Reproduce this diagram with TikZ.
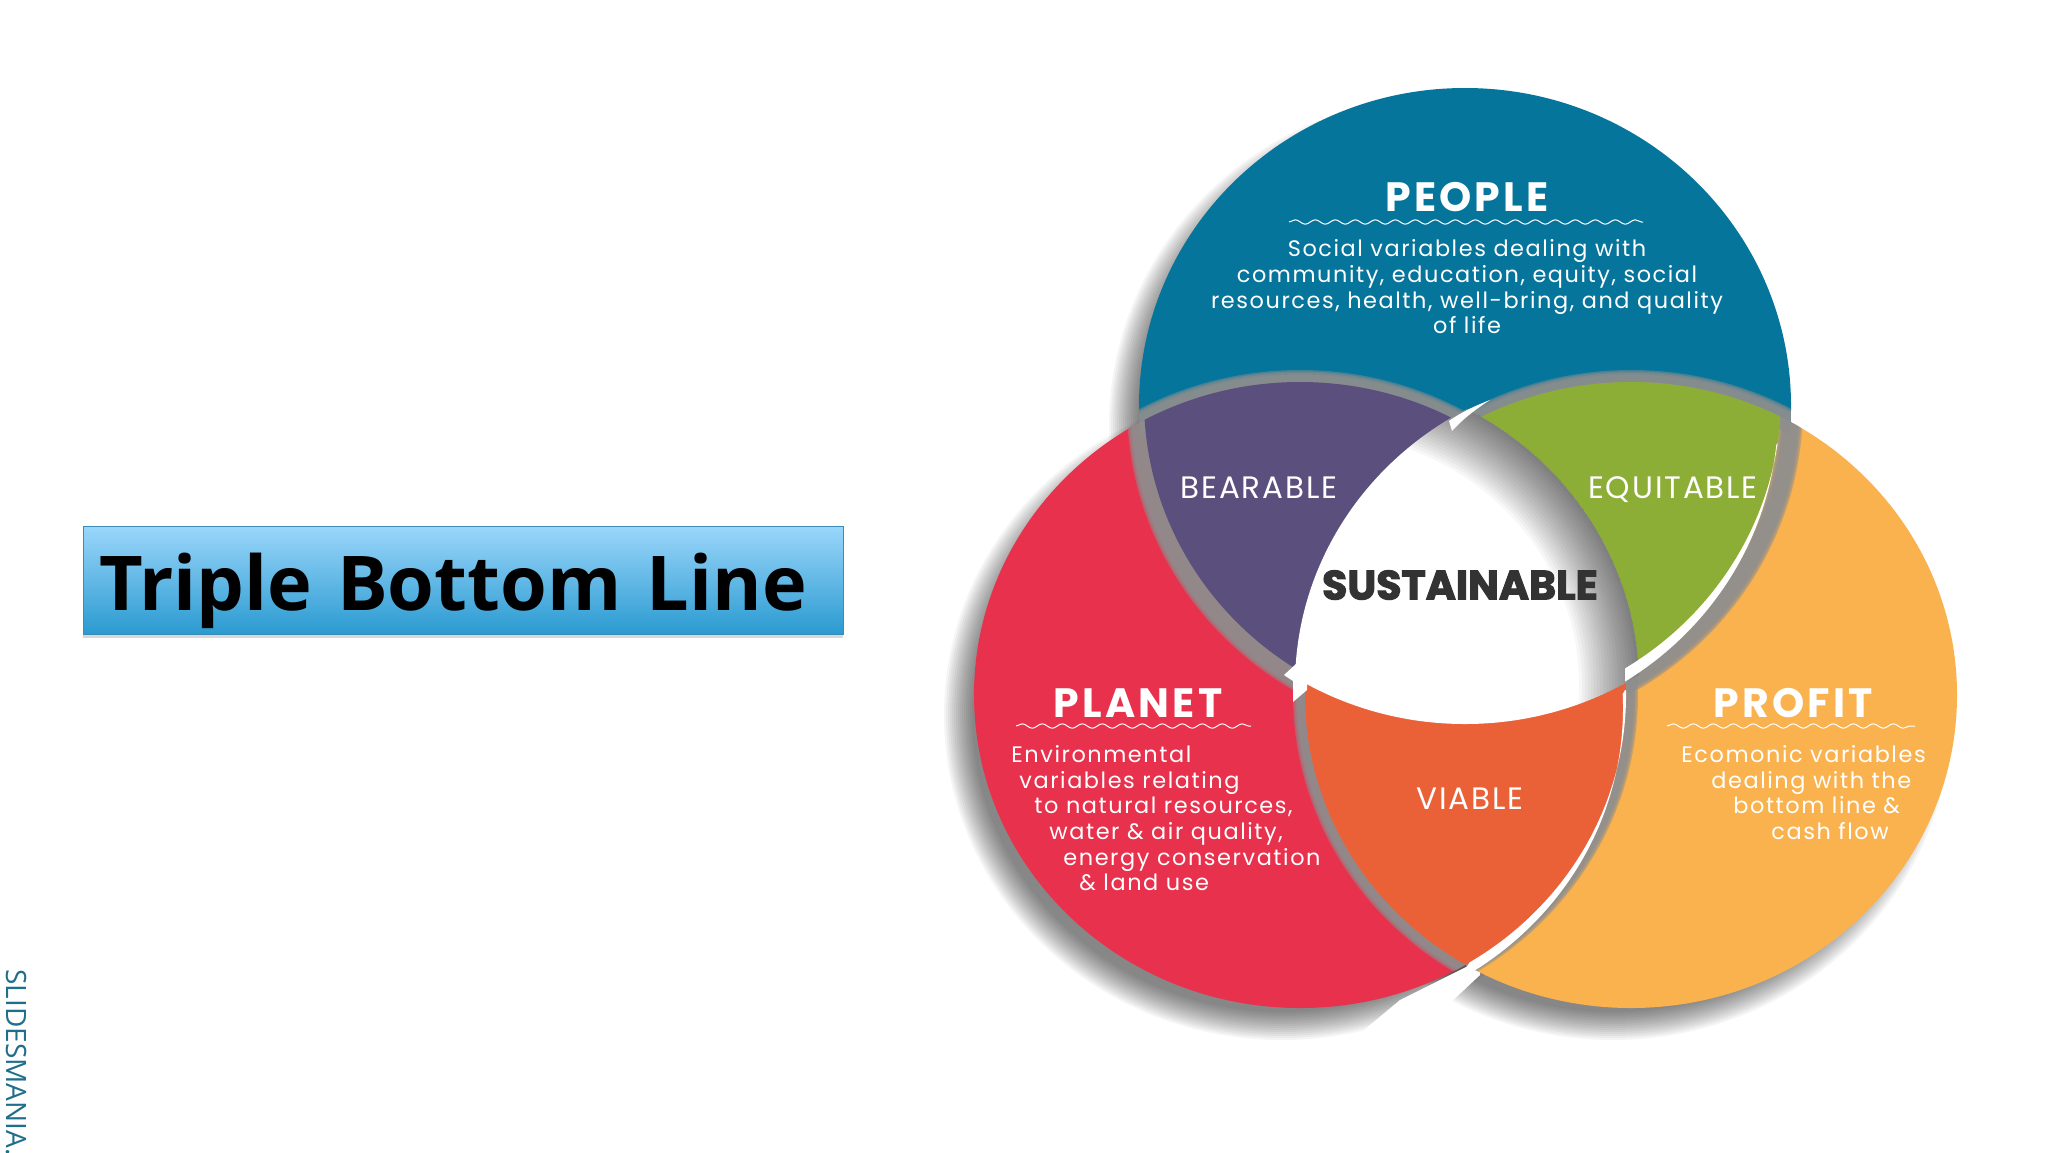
\documentclass[tikz,border=0pt]{standalone}
\usepackage{fontspec}
\usepackage{tikz}
\usetikzlibrary{positioning,shadows,decorations.pathmorphing}
\newfontfamily\vennfont[LetterSpace=7]{Poppins}
\newfontfamily\headfont[LetterSpace=8]{Poppins}
\newfontfamily\partfont[LetterSpace=6]{Poppins}
\newfontfamily\heavyfont[BoldFeatures={FakeBold=2.5}]{Poppins}
\newfontfamily\titlefont{Open Sans}
\definecolor{teal1}{HTML}{05759C}
\definecolor{red1}{HTML}{E8314D}
\definecolor{amber1}{HTML}{FAB24F}
\definecolor{plum1}{HTML}{5A4F7D}
\definecolor{olive1}{HTML}{8CAE37}
\definecolor{rust1}{HTML}{EB6137}
\definecolor{mark1}{HTML}{1F6F8B}
\definecolor{boxtop}{HTML}{9AD6FB}
\definecolor{boxbot}{HTML}{2A9AD0}
\definecolor{boxline}{HTML}{3B8DB5}
\definecolor{rim1}{HTML}{8E8E8E}
% the three circles, and the same ones moved a little
\newcommand{\peopleE}{(1465,406) ellipse [x radius=326, y radius=318]}
\newcommand{\planetE}{(1300,695) ellipse [x radius=326, y radius=313]}
\newcommand{\profitE}{(1631,695) ellipse [x radius=326, y radius=313]}
\newcommand{\peopleL}{(1470,400) ellipse [x radius=326, y radius=318]}
\newcommand{\peopleS}{(1455,397) ellipse [x radius=326, y radius=318]}
\newcommand{\planetS}{(1313,685) ellipse [x radius=326, y radius=313]}
\newcommand{\profitS}{(1621,685) ellipse [x radius=326, y radius=313]}
\newcommand{\band}[1]{\foreach \w in {12,10.5,9,7.5} \draw [rim1, opacity=.5, line width=\w pt] #1;}
\tikzstyle{head} = [text=white, font=\headfont\bfseries\fontsize{20.5}{22}\selectfont]
\tikzstyle{body} = [text=white, font=\vennfont\fontsize{11.2}{12.85}\selectfont, inner sep=0pt]
\tikzstyle{part} = [text=white, font=\partfont\fontsize{15.5}{18}\selectfont, text height=11pt, text depth=0pt]
\tikzstyle{wave} = [white, line width=.5pt, decorate,
    decoration={snake, amplitude=1.1pt, segment length=10pt}]
\tikzstyle{titlebox} = [draw=boxline, top color=boxtop, bottom color=boxbot,
    minimum height=54pt, text width=364pt, align=left, inner xsep=8pt, inner ysep=0pt,
    drop shadow={shadow xshift=0pt, shadow yshift=-1.5pt, opacity=.3}]

\begin{document}
\begin{tikzpicture}[x=.5pt, y=-.5pt]
  \useasboundingbox [fill=white] (0,0) rectangle (2048,1152);
  % shadows on the ground
  \foreach \d in {-16,-14,...,12} {
    \fill [black, opacity=.04] (1447,426) ellipse [x radius=326+\d, y radius=318+\d];
    \fill [black, opacity=.04] (1282,715) ellipse [x radius=326+\d, y radius=313+\d];
    \fill [black, opacity=.04] (1613,715) ellipse [x radius=326+\d, y radius=313+\d];
  }
  \fill [white] (1480,960) -- (1480,975) -- (1450,1003) -- (1420,1050) -- (1340,1050) -- (1400,1000) -- cycle;
  \fill [teal1] \peopleE;
  \fill [red1] \planetE;
  \fill [amber1] \profitE;
  % grey rims where the circles pass over one another
  \begin{scope} \clip \peopleE; \band{\planetE} \band{\profitE} \end{scope}
  \begin{scope} \clip \planetE; \band{\peopleE} \band{\profitE} \end{scope}
  \begin{scope} \clip \profitE; \band{\peopleE} \band{\planetE} \end{scope}
  % the overlaps
  \begin{scope} \clip \peopleL; \clip \planetE; \fill [plum1] (1000,300) rectangle (1600,800); \end{scope}
  \begin{scope} \clip \peopleS; \clip \profitE; \fill [olive1] (1300,300) rectangle (1900,800); \end{scope}
  \begin{scope} \clip \planetE; \clip \profitE; \fill [rust1] (1200,600) rectangle (1700,1000); \end{scope}
  % the white middle with its shade
  \begin{scope}
    \clip \peopleE; \clip \planetS; \clip \profitS;
    \fill [white] (1200,300) rectangle (1700,800);
    \foreach \w in {3,6,...,60} \draw [black, opacity=.03, line width=\w pt] \planetS;
  \end{scope}
  % white slits
  \begin{scope}
    \clip (1440,1060) -- (1440,1000) -- (1468,965) -- (1625,690) -- (1700,690) -- (1700,1060) -- cycle;
    \fill [white, even odd rule] \planetE (1297,708) ellipse [x radius=326, y radius=313];
  \end{scope}
  \begin{scope}
    \clip (1625,700) -- (1625,640) -- (1780,440) -- (1850,440) -- (1850,700) -- cycle;
    \fill [white, even odd rule] \peopleS (1452,412) ellipse [x radius=326, y radius=318];
  \end{scope}
  \fill [white] (1449,421) .. controls (1460,413) and (1472,407) .. (1490,400)
    .. controls (1473,411) and (1462,420) .. (1452,431) -- cycle;
  \fill [white] (1284,675) -- (1293,681) -- (1293,702) -- (1307,690) -- (1307,670) -- (1297,663) -- cycle;
  % labels
  \node [head] (people) at (1467,197) {PEOPLE};
  \coordinate (w1a) at (1289,222);
  \coordinate (w1b) at (1643,222);
  \draw [wave] (w1a) -- (w1b);
  \node [body, align=center, below of=people, node distance=45pt] (peopletxt)
  {Social variables dealing with\\community, education, equity, social\\resources, health, well-bring, and quality\\of life};
  \node [head] (planet) at (1138,703) {PLANET};
  \coordinate (w2a) at (1016,726);
  \coordinate (w2b) at (1251,726);
  \draw [wave] (w2a) -- (w2b);
  \node [body, align=left, anchor=north west] (planettxt) at (1011,745)
  {Environmental\\\hspace*{4pt}variables relating\\\hspace*{11.5pt}to natural resources,\\\hspace*{19pt}water \& air quality,\\\hspace*{26pt}energy conservation\\\hspace*{34pt}\& land use};
  \node [head] (profit) at (1793,703) {PROFIT};
  \coordinate (w3a) at (1667,726);
  \coordinate (w3b) at (1915,726);
  \draw [wave] (w3a) -- (w3b);
  \node [body, align=left, anchor=north west] (profittxt) at (1681,745)
  {Ecomonic variables\\\hspace*{15pt}dealing with the\\\hspace*{26pt}bottom line \&\\\hspace*{45pt}cash flow};
  \node [part] (bearable) at (1259,487) {BEARABLE};
  \node [part, right of=bearable, node distance=207pt] (equitable) {EQUITABLE};
  \node [part] (viable) at (1470,798) {VIABLE};
  \node [text=black!80, font=\heavyfont\bfseries\fontsize{20.5}{24}\selectfont] (sustainable) at (1460,585) {SUSTAINABLE};
  % left side
  \node [titlebox, font=\titlefont\bfseries\fontsize{37.8}{44}\selectfont] (title) at (463,580.5) {\raisebox{-15pt}[0pt][0pt]{Triple Bottom Line}};
  \node [text=mark1, rotate=-90, anchor=west, inner sep=0pt, font=\titlefont\fontsize{14}{16}\selectfont] (mark) at (16,969) {SLIDESMANIA.};
\end{tikzpicture}
\end{document}
